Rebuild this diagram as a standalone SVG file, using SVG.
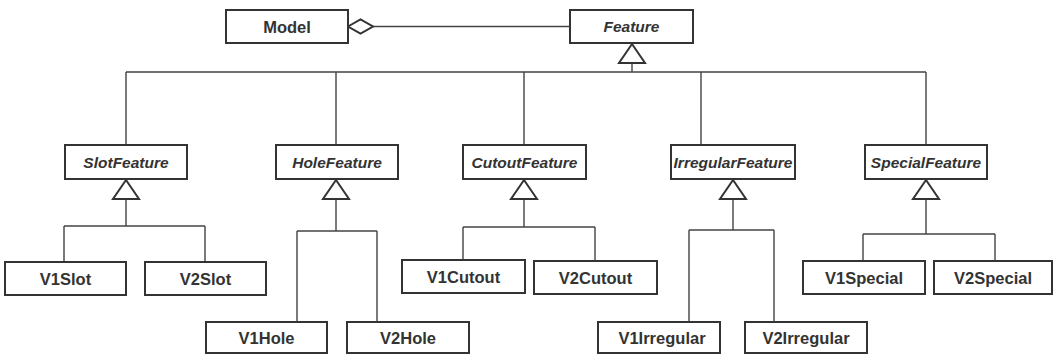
<svg xmlns="http://www.w3.org/2000/svg" width="1054" height="354" viewBox="0 0 1054 354">
<style>
.box{fill:#fff;stroke:#333;stroke-width:2}
.t{font-family:"Liberation Sans",Arial,sans-serif;font-weight:bold;font-size:16.5px;fill:#333;text-anchor:middle}
.i{font-style:italic;font-size:15.5px}
.ln{fill:none;stroke:#444;stroke-width:1.4}
.tri{fill:#fff;stroke:#333;stroke-width:2;stroke-linejoin:miter}
</style>
<rect width="1054" height="354" fill="#fff"/>
<g id="connectors">
<path class="ln" d="M373 26.5H570"/>
<polygon class="tri" points="348,26.5 360.5,19.5 373,26.5 360.5,33.5"/>
<path class="ln" d="M632 63V72M126 72H926M126 72V145M336 72V145M524 72V145M701 72V145M926 72V145"/>
<polygon class="tri" points="632,44 619,63 645,63"/>
<path class="ln" d="M126 199V226M64 226H205M64 226V262M205 226V262"/>
<polygon class="tri" points="126,180 113,199 139,199"/>
<path class="ln" d="M336 199V231M297 231H377M297 231V322M377 231V322"/>
<polygon class="tri" points="336,180 323,199 349,199"/>
<path class="ln" d="M524 199V227M463 227H595M463 227V260M595 227V261"/>
<polygon class="tri" points="524,180 511,199 537,199"/>
<path class="ln" d="M733 199V230M689 230H774M689 230V322M774 230V322"/>
<polygon class="tri" points="733,180 720,199 746,199"/>
<path class="ln" d="M926 199V234M863 234H995M863 234V261M995 234V261"/>
<polygon class="tri" points="926,180 913,199 939,199"/>
</g>
<g id="Model"><rect class="box" x="226" y="10" width="122" height="33"/><text class="t" x="287" y="32.5">Model</text></g>
<g id="Feature"><rect class="box" x="570" y="10" width="123" height="33"/><text class="t i" x="631.5" y="32">Feature</text></g>
<g id="SlotFeature"><rect class="box" x="65" y="145" width="122" height="34"/><text class="t i" x="126" y="167.5">SlotFeature</text></g>
<g id="HoleFeature"><rect class="box" x="276" y="145" width="122" height="34"/><text class="t i" x="337" y="167.5">HoleFeature</text></g>
<g id="CutoutFeature"><rect class="box" x="463" y="145" width="123" height="34"/><text class="t i" x="524.5" y="167.5">CutoutFeature</text></g>
<g id="IrregularFeature"><rect class="box" x="671" y="145" width="124" height="34"/><text class="t i" x="733" y="167.5">IrregularFeature</text></g>
<g id="SpecialFeature"><rect class="box" x="865" y="145" width="122" height="34"/><text class="t i" x="926" y="167.5">SpecialFeature</text></g>
<g id="V1Slot"><rect class="box" x="5" y="262" width="121" height="33"/><text class="t" x="65.5" y="284.5">V1Slot</text></g>
<g id="V2Slot"><rect class="box" x="145" y="262" width="121" height="33"/><text class="t" x="205.5" y="284.5">V2Slot</text></g>
<g id="V1Hole"><rect class="box" x="206" y="322" width="121" height="31"/><text class="t" x="266.5" y="343.5">V1Hole</text></g>
<g id="V2Hole"><rect class="box" x="347" y="322" width="122" height="31"/><text class="t" x="408" y="343.5">V2Hole</text></g>
<g id="V1Cutout"><rect class="box" x="402" y="260" width="123" height="33"/><text class="t" x="463.5" y="282.5">V1Cutout</text></g>
<g id="V2Cutout"><rect class="box" x="534" y="261" width="123" height="33"/><text class="t" x="595.5" y="283.5">V2Cutout</text></g>
<g id="V1Irregular"><rect class="box" x="598" y="322" width="122" height="31"/><text class="t" x="662" y="343.5">V1Irregular</text></g>
<g id="V2Irregular"><rect class="box" x="745" y="322" width="122" height="31"/><text class="t" x="806" y="343.5">V2Irregular</text></g>
<g id="V1Special"><rect class="box" x="803" y="261" width="122" height="33"/><text class="t" x="864" y="283.5">V1Special</text></g>
<g id="V2Special"><rect class="box" x="934" y="261" width="118" height="33"/><text class="t" x="993" y="283.5">V2Special</text></g>
</svg>
